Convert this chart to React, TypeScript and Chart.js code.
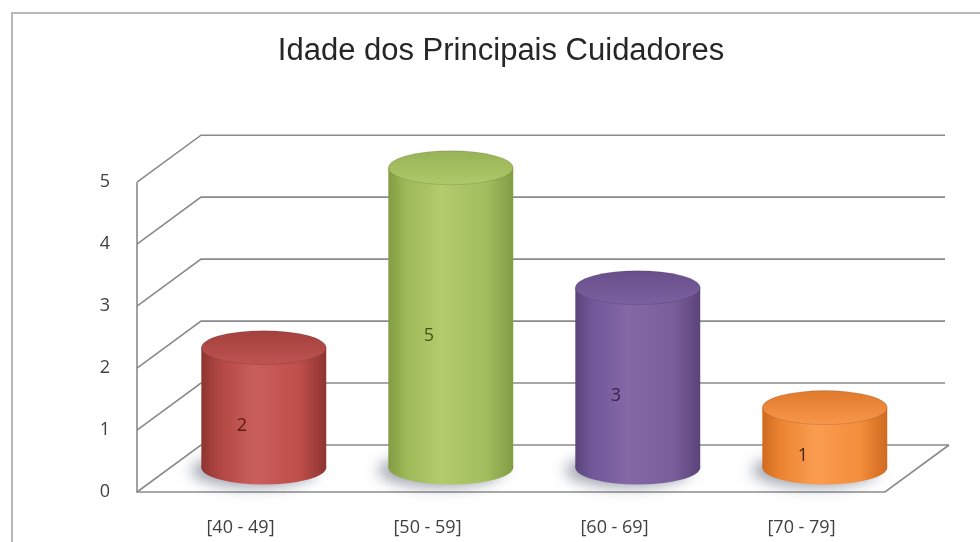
import React, { useEffect, useRef } from "react";
import { Chart, registerables } from "chart.js";

Chart.register(...registerables);

// ---- data ----
const TITLE = "Idade dos Principais Cuidadores";
const categories = ["[40 - 49]", "[50 - 59]", "[60 - 69]", "[70 - 79]"];
const values = [2, 5, 3, 1];
const yTicks = [0, 1, 2, 3, 4, 5];

// ---- styles ----
const bodyStops = [
  ["#8e3431", "#b14643", "#c95f5b", "#bf4f4b", "#8e3431"],
  ["#819c43", "#9db857", "#b2cb6c", "#a2be5e", "#819c43"],
  ["#5a4479", "#72589a", "#8468a6", "#7a5e9c", "#5a4479"],
  ["#cf6a1f", "#ea8330", "#fa9c4f", "#f38e3c", "#cf6a1f"],
];
const topStops = [
  ["#a4403d", "#bd5451"],
  ["#98b356", "#aec969"],
  ["#674f8a", "#7c61a0"],
  ["#e07a2c", "#f7964a"],
];
const labelColors = ["#5e1a18", "#3f5619", "#35254f", "#472508"];

const W = 980;
const H = 542;
const BX = 64; // depth offset x (back wall)
const BY = -47; // depth offset y (back wall)
const DEPTH = 0.52; // cylinder plane depth
const DX = BX * DEPTH;
const DY = BY * DEPTH;
const K = 60 / 62; // perspective shrink of cylinder plane
const RY = 17; // ellipse half height
const BAR_PCT = 0.668;

function hGrad(ctx: CanvasRenderingContext2D, x0: number, x1: number, stops: string[]) {
  const g = ctx.createLinearGradient(x0, 0, x1, 0);
  const pos = [0, 0.14, 0.42, 0.78, 1];
  stops.forEach((c, i) => g.addColorStop(pos[i], c));
  return g;
}

const box3d = {
  id: "box3d",
  beforeDatasetsDraw(chart: any) {
    const { ctx, chartArea: a, scales } = chart;
    const y = scales.y;
    const y0 = y.getPixelForValue(0);
    const y5 = y.getPixelForValue(5);
    ctx.save();
    // outer frame
    ctx.strokeStyle = "#b8b8b8";
    ctx.lineWidth = 2;
    ctx.beginPath();
    ctx.moveTo(12, chart.height + 5);
    ctx.lineTo(12, 13);
    ctx.lineTo(chart.width + 5, 13);
    ctx.stroke();
    // 3D grid: left wall diagonals + back wall lines
    ctx.strokeStyle = "#8a8a8a";
    ctx.lineWidth = 1.6;
    yTicks.forEach((v) => {
      const fy = y.getPixelForValue(v);
      ctx.beginPath();
      ctx.moveTo(a.left, fy);
      ctx.lineTo(a.left + BX, fy + BY);
      ctx.lineTo(a.right + BX - (v === 0 ? 0 : 4), fy + BY);
      ctx.stroke();
    });
    // front axis and floor
    ctx.beginPath();
    ctx.moveTo(a.left, y5);
    ctx.lineTo(a.left, y0);
    ctx.lineTo(a.right, y0);
    ctx.lineTo(a.right + BX, y0 + BY);
    ctx.stroke();
    ctx.restore();

    // cylinder plane transform (kept for the bars, restored afterwards)
    ctx.save();
    ctx.translate(DX, DY);
    ctx.translate(0, y0);
    ctx.scale(1, K);
    ctx.translate(0, -y0);
    const meta = chart.getDatasetMeta(0);
    meta.data.forEach((el: any, i: number) => {
      const rx = el.width / 2;
      ctx.save();
      ctx.shadowColor = "rgba(70,80,100,0.5)";
      ctx.shadowBlur = 14;
      ctx.shadowOffsetX = -10;
      ctx.shadowOffsetY = 3;
      ctx.fillStyle = hGrad(ctx, el.x - rx, el.x + rx, bodyStops[i]);
      ctx.beginPath();
      ctx.ellipse(el.x, el.base, rx, RY / K, 0, 0, Math.PI * 2);
      ctx.fill();
      ctx.restore();
    });
  },
  afterDatasetsDraw(chart: any) {
    const { ctx, scales } = chart;
    const y0 = scales.y.getPixelForValue(0);
    const meta = chart.getDatasetMeta(0);
    meta.data.forEach((el: any, i: number) => {
      const rx = el.width / 2;
      const ry = RY / K;
      const g = ctx.createLinearGradient(0, el.y - ry, 0, el.y + ry);
      g.addColorStop(0, topStops[i][0]);
      g.addColorStop(1, topStops[i][1]);
      ctx.fillStyle = g;
      ctx.beginPath();
      ctx.ellipse(el.x, el.y, rx, ry, 0, 0, Math.PI * 2);
      ctx.fill();
      ctx.strokeStyle = "rgba(0,0,0,0.12)";
      ctx.lineWidth = 1;
      ctx.stroke();
    });
    ctx.restore();

    // data labels (inside cylinders)
    ctx.save();
    ctx.font = "18px 'Open Sans'";
    ctx.textAlign = "center";
    ctx.textBaseline = "middle";
    meta.data.forEach((el: any, i: number) => {
      const bottom = y0 + DY;
      const top = y0 + DY + (el.y - y0) * K;
      const mid = (bottom + top) / 2;
      ctx.fillStyle = labelColors[i];
      ctx.fillText(String(values[i]), el.x + DX - 22, mid + 18);
    });
    ctx.restore();
  },
};

export default function App() {
  const ref = useRef<HTMLCanvasElement | null>(null);
  useEffect(() => {
    document.body.style.margin = "0";
    document.body.style.overflow = "hidden";
    if (!ref.current) return;
    const chart = new Chart(ref.current, {
      type: "bar",
      data: {
        labels: categories,
        datasets: [
          {
            data: values,
            borderWidth: 0,
            clip: false as any,
            categoryPercentage: 1,
            barPercentage: BAR_PCT,
            backgroundColor: (c: any) => {
              const ch = c.chart;
              const xs = ch.scales && ch.scales.x;
              if (!xs || c.dataIndex === undefined || !ch.chartArea) return "#888";
              const cx = xs.getPixelForValue(c.dataIndex);
              const w = (xs.width / categories.length) * BAR_PCT;
              return hGrad(ch.ctx, cx - w / 2, cx + w / 2, bodyStops[c.dataIndex]);
            },
          } as any,
        ],
      },
      options: {
        animation: false,
        responsive: false,
        events: [],
        layout: { padding: { left: 22, right: 0, top: 0, bottom: 0 } },
        plugins: {
          legend: { display: false },
          tooltip: { enabled: false },
          title: {
            display: true,
            text: TITLE,
            color: "#262626",
            font: { family: "'Liberation Sans', Arial, sans-serif", size: 31, weight: "normal" },
            padding: { top: 33, bottom: 112 },
          },
        },
        scales: {
          x: {
            grid: { display: false, drawTicks: false },
            border: { display: false },
            ticks: {
              color: "#404040",
              font: { family: "'Open Sans'", size: 18 },
              padding: 25,
              labelOffset: 10,
              maxRotation: 0,
              autoSkip: false,
            },
            afterFit: (s: any) => {
              s.height = 50;
            },
          },
          y: {
            min: 0,
            max: 5,
            grid: { display: false, drawTicks: false },
            border: { display: false },
            ticks: {
              stepSize: 1,
              color: "#404040",
              font: { family: "'Open Sans'", size: 18 },
              padding: 27,
            },
            afterFit: (s: any) => {
              s.width = 115;
            },
          },
          spacer: {
            type: "linear",
            position: "right",
            display: true,
            grid: { display: false, drawTicks: false },
            border: { display: false },
            ticks: { display: false },
            afterFit: (s: any) => {
              s.width = 95;
            },
          },
        },
      } as any,
      plugins: [box3d],
    });
    return () => chart.destroy();
  }, []);
  return (
    <div style={{ width: W, height: H }}>
      <canvas ref={ref} width={W} height={H} style={{ display: "block" }} />
    </div>
  );
}
